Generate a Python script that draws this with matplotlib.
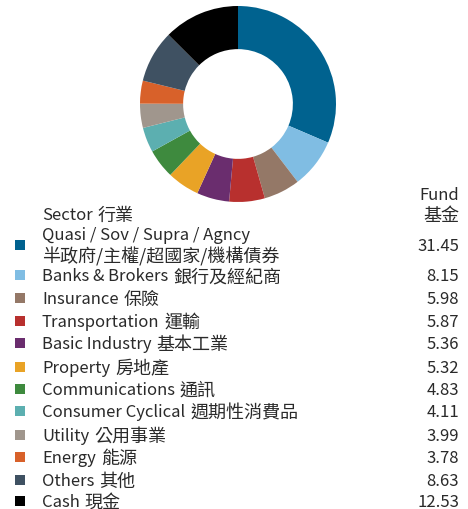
import matplotlib
matplotlib.use('Agg')
import matplotlib.pyplot as plt
from matplotlib.patches import Rectangle

plt.rcParams['font.family'] = ['Noto Sans CJK TC', 'DejaVu Sans']

# Sector allocation (% of fund)
sectors_en = ['Quasi / Sov / Supra / Agncy', 'Banks & Brokers', 'Insurance', 'Transportation',
              'Basic Industry', 'Property', 'Communications', 'Consumer Cyclical',
              'Utility', 'Energy', 'Others', 'Cash']
sectors_zh = ['半政府/主權/超國家/機構債券', '銀行及經紀商', '保險', '運輸',
              '基本工業', '房地產', '通訊', '週期性消費品',
              '公用事業', '能源', '其他', '現金']
fund = [31.45, 8.15, 5.98, 5.87, 5.36, 5.32, 4.83, 4.11, 3.99, 3.78, 8.63, 12.53]
colors = ['#00628f', '#80bde3', '#947867', '#b8302e', '#6a2d6e', '#e9a326',
          '#3e8a3e', '#5cafb0', '#a0968d', '#d8612a', '#3f5162', '#000000']

W, H = 468, 510
fig = plt.figure(figsize=(W / 100, H / 100), dpi=100)

# donut chart
cx, cy, r = 238, 105, 98
ax = fig.add_axes([(cx - r) / W, (H - cy - r) / H, 2 * r / W, 2 * r / H])
ax.pie(fund, colors=colors, startangle=90, counterclock=False,
       wedgeprops=dict(width=0.44, linewidth=0))
ax.set_xlim(-1, 1)
ax.set_ylim(-1, 1)
ax.set_aspect('equal')
ax.axis('off')

# table below, in pixel coordinates
tx = fig.add_axes([0, 0, 1, 1])
tx.set_xlim(0, W)
tx.set_ylim(H, 0)
tx.axis('off')
renderer = fig.canvas.get_renderer()

fs_en, fs_zh = 12, 13
tcol = '#2a2a2a'


def mixed(x, y, en, zh, **kw):
    # latin part and chinese part set at slightly different sizes
    x_zh = x
    if en:
        t = tx.text(x, y, en, ha='left', va='center', fontsize=fs_en, color=tcol, **kw)
        x_zh = t.get_window_extent(renderer).x1 + 5
    if zh:
        tx.text(x_zh, y, zh, ha='left', va='center', fontsize=fs_zh, color=tcol, **kw)


tx.text(459, 196, 'Fund', ha='right', va='center', fontsize=fs_en, color=tcol)
tx.text(459, 216, '基金', ha='right', va='center', fontsize=fs_zh, color=tcol)
mixed(42, 216, 'Sector', '行業')

row_y = [247, 277, 300, 323, 345, 369, 391, 413, 437, 459, 482, 503]
for i, (en, zh, v, c) in enumerate(zip(sectors_en, sectors_zh, fund, colors)):
    y = row_y[i]
    tx.add_patch(Rectangle((15, y - 6), 10, 10, facecolor=c, edgecolor='none'))
    if i == 0:
        mixed(42, y - 11, en, '')
        mixed(42, y + 10, '', zh)
    else:
        mixed(42, y, en, zh)
    tx.text(459, y, f'{v:.2f}', ha='right', va='center', fontsize=fs_en, color=tcol)

fig.savefig('out.png', dpi=100)
